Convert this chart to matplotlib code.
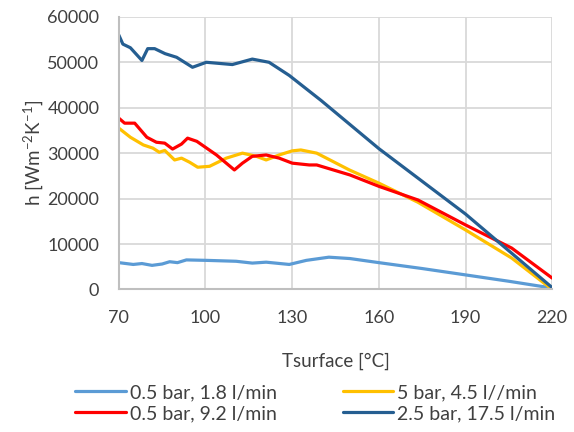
import matplotlib
matplotlib.use("Agg")
import matplotlib.pyplot as plt

plt.rcParams['font.family'] = ['Lato', 'DejaVu Sans']

# Series
x_lb = [70, 75, 78, 81.5, 85, 87.6, 90.3, 93.4, 100.3, 110.6, 116.2, 121, 129, 134.9, 142.7, 150, 160, 175, 190, 205, 220]
y_lb = [5900, 5500, 5700, 5300, 5600, 6100, 5900, 6500, 6400, 6200, 5800, 6000, 5500, 6400, 7100, 6800, 5900, 4600, 3200, 1800, 300]

x_ye = [70, 74, 78.5, 81.8, 84, 85.9, 89.3, 91.7, 94.5, 97.3, 101.4, 107.2, 112.8, 117.6, 121, 125.5, 130, 133, 138.5, 149.8, 160, 173.5, 190, 206, 220]
y_ye = [35500, 33500, 31800, 31100, 30200, 30600, 28500, 28900, 28000, 26900, 27100, 28900, 30000, 29300, 28500, 29600, 30500, 30700, 30000, 26300, 23400, 19200, 13100, 6900, 0]

x_rd = [70, 72, 75.5, 79.7, 83, 85.9, 88.6, 91.7, 93.8, 97, 103.8, 110, 112.8, 116.2, 121, 125.5, 130, 135.9, 138.5, 150, 160, 173.5, 190, 206, 220]
y_rd = [37700, 36600, 36600, 33500, 32400, 32200, 30900, 32000, 33300, 32600, 29600, 26300, 27800, 29300, 29600, 28900, 27800, 27400, 27400, 25200, 22700, 19700, 14200, 9100, 2500]

x_db = [70, 71.4, 74, 78, 80, 82.4, 86, 90, 95.5, 100.3, 109.3, 116.2, 122, 129, 140, 160, 190, 220]
y_db = [56000, 54000, 53200, 50400, 53000, 53000, 51900, 51100, 48900, 50000, 49500, 50700, 50000, 47100, 41600, 31000, 16600, 400]

labels = ["0.5 bar, 1.8 l/min", "5 bar, 4.5 l//min", "0.5 bar, 9.2 l/min", "2.5 bar, 17.5 l/min"]
colors = ["#5b9bd5", "#ffc000", "#ff0000", "#255e91"]

x_ticks = [70, 100, 130, 160, 190, 220]
y_ticks = [0, 10000, 20000, 30000, 40000, 50000, 60000]

fig = plt.figure(figsize=(5.74, 4.32), dpi=100)
ax = fig.add_axes([0.207, 0.330, 0.755, 0.631])

lw = 2.3
kw = dict(lw=lw, solid_capstyle='round', solid_joinstyle='round')
l_lb, = ax.plot(x_lb, y_lb, color=colors[0], label=labels[0], **kw)
l_ye, = ax.plot(x_ye, y_ye, color=colors[1], label=labels[1], **kw)
l_rd, = ax.plot(x_rd, y_rd, color=colors[2], label=labels[2], **kw)
l_db, = ax.plot(x_db, y_db, color=colors[3], label=labels[3], **kw)

ax.set_xlim(70, 220)
ax.set_ylim(0, 60000)
ax.set_xticks(x_ticks)
ax.set_yticks(y_ticks)
ax.grid(True, color="#d9d9d9", lw=1.3)
ax.set_axisbelow(True)
for s in ['top', 'right']:
    ax.spines[s].set_visible(False)
for s in ['left', 'bottom']:
    ax.spines[s].set_color("#bfbfbf")
    ax.spines[s].set_linewidth(1.5)
ax.tick_params(axis='both', length=0, labelsize=13, colors="#404040")
ax.tick_params(axis='y', pad=14)
ax.tick_params(axis='x', pad=15)

ax.set_xlabel("Tsurface [°C]", fontsize=13.5, color="#404040", labelpad=19)
ax.set_ylabel(r"h [Wm$^{\mathregular{-2}}$K$^{\mathregular{-1}}$]", fontsize=13.5, color="#404040", labelpad=1)

leg = fig.legend(handles=[l_lb, l_rd, l_ye, l_db], labels=[labels[0], labels[2], labels[1], labels[3]],
                 ncol=2, loc='center', bbox_to_anchor=(0.549, 0.067), frameon=False,
                 fontsize=14, handlelength=2.6, handletextpad=0.2, columnspacing=3.4,
                 labelspacing=0.2, borderpad=0)
for t in leg.get_texts():
    t.set_color("#404040")

fig.savefig("out.png", dpi=100)
